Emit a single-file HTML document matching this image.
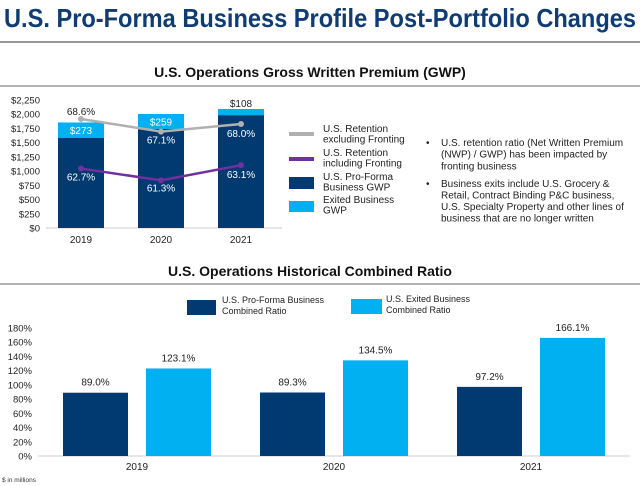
<!DOCTYPE html>
<html><head><meta charset="utf-8"><style>
html,body{margin:0;padding:0;background:#fff;width:640px;height:486px;overflow:hidden}
svg{display:block;font-family:"Liberation Sans",Arial,sans-serif}
</style></head><body>
<svg id="s" width="640" height="486" viewBox="0 0 640 486">
<text x="4" y="27" font-size="26" font-weight="bold" fill="#0f3c73" textLength="632" lengthAdjust="spacingAndGlyphs">U.S. Pro-Forma Business Profile Post-Portfolio Changes</text>
<line x1="0" y1="42" x2="640" y2="42" stroke="#777" stroke-width="1.5"/>
<text x="310" y="77" font-size="14" font-weight="bold" fill="#111" text-anchor="middle">U.S. Operations Gross Written Premium (GWP)</text>
<line x1="0" y1="86" x2="640" y2="86" stroke="#999" stroke-width="1.5"/>
<text x="310" y="276" font-size="14" font-weight="bold" fill="#111" text-anchor="middle">U.S. Operations Historical Combined Ratio</text>
<line x1="0" y1="284" x2="640" y2="284" stroke="#999" stroke-width="1.5"/>
<g id="gtop"></g>
<g id="gbot"></g>
<g font-size="10" fill="#222">
<line x1="289" y1="134" x2="314" y2="134" stroke="#b0b0b0" stroke-width="4"/>
<text x="323" y="132"><tspan x="323">U.S. Retention</tspan><tspan x="323" dy="10.5">excluding Fronting</tspan></text>
<line x1="289" y1="159" x2="314" y2="159" stroke="#7030a0" stroke-width="4"/>
<text x="323" y="156"><tspan x="323">U.S. Retention</tspan><tspan x="323" dy="10.5">including Fronting</tspan></text>
<rect x="289" y="177" width="25" height="12" fill="#003a70"/>
<text x="323" y="180"><tspan x="323">U.S. Pro-Forma</tspan><tspan x="323" dy="10.5">Business GWP</tspan></text>
<rect x="289" y="201" width="25" height="11" fill="#00b0f0"/>
<text x="323" y="203"><tspan x="323">Exited Business</tspan><tspan x="323" dy="10.5">GWP</tspan></text>
</g>
<g font-size="10" fill="#222">
<text x="426" y="146">•</text>
<text x="441" y="146"><tspan x="441">U.S. retention ratio (Net Written Premium</tspan><tspan x="441" dy="11.7">(NWP) / GWP) has been impacted by</tspan><tspan x="441" dy="11.7">fronting business</tspan></text>
<text x="426" y="187">•</text>
<text x="441" y="187"><tspan x="441">Business exits include U.S. Grocery &amp;</tspan><tspan x="441" dy="11.5">Retail, Contract Binding P&amp;C business,</tspan><tspan x="441" dy="11.5">U.S. Specialty Property and other lines of</tspan><tspan x="441" dy="11.5">business that are no longer written</tspan></text>
</g>
<g font-size="9" fill="#222">
<rect x="187" y="300" width="29" height="15" fill="#003a70"/>
<text x="222" y="303"><tspan x="222">U.S. Pro-Forma Business</tspan><tspan x="222" dy="11">Combined Ratio</tspan></text>
<rect x="351" y="299" width="31" height="15" fill="#00b0f0"/>
<text x="386" y="302"><tspan x="386">U.S. Exited Business</tspan><tspan x="386" dy="11">Combined Ratio</tspan></text>
</g>
<text x="2" y="482" font-size="6.5" fill="#333">$ in millions</text>
</svg>
<script>
const years=["2019","2020","2021"];
const proForma=[1582,1745,1984];
const exited=[273,259,108];
const exitedLabels=["$273","$259","$108"];
const retentionExcl=[68.6,67.1,68.0];
const retentionIncl=[62.7,61.3,63.1];
const gwpTicks=[0,250,500,750,1000,1250,1500,1750,2000,2250];
const ratioProForma=[89.0,89.3,97.2];
const ratioExited=[123.1,134.5,166.1];
const ratioTicks=[0,20,40,60,80,100,120,140,160,180];

const NS="http://www.w3.org/2000/svg";
function mk(p,tag,a,txt){const e=document.createElementNS(NS,tag);for(const k in a)e.setAttribute(k,a[k]);if(txt!=null)e.textContent=txt;p.appendChild(e);return e;}
const gTop=document.getElementById('gtop'),gBot=document.getElementById('gbot');
const yT=v=>228-v*(128/2250);
const xT=i=>81+i*80;
const yP=v=>119-(v-68.6)*8.4;
gwpTicks.forEach(t=>{const e=mk(gTop,'text',{x:40,y:yT(t)+3.5,'font-size':9.5,'text-anchor':'end',fill:'#222'},'$'+t.toLocaleString('en-US'));

});
const ax=mk(gTop,'line',{x1:46,y1:228,x2:282,y2:228,stroke:'#ccc','stroke-width':1});


years.forEach((y,i)=>{
 const b1=mk(gTop,'rect',{x:xT(i)-23,y:yT(proForma[i]),width:46,height:228-yT(proForma[i]),fill:'#003a70'});
 
 
 const b2=mk(gTop,'rect',{x:xT(i)-23,y:yT(proForma[i]+exited[i]),width:46,height:yT(proForma[i])-yT(proForma[i]+exited[i]),fill:'#00b0f0'});
 
 
 const top3=i===2;
 const lb=mk(gTop,'text',{x:xT(i),y:top3?yT(proForma[i]+exited[i])-2:(yT(proForma[i])+yT(proForma[i]+exited[i]))/2+4,'font-size':10,'text-anchor':'middle',fill:top3?'#222':'#fff'},exitedLabels[i]);
 
 
 const xl=mk(gTop,'text',{x:xT(i),y:243,'font-size':10,'text-anchor':'middle',fill:'#222'},y);
 
 
});
function series(vals,color,name,lblColor,offs){
 const pl=mk(gTop,'polyline',{points:vals.map((v,i)=>xT(i)+','+yP(v)).join(' '),fill:'none',stroke:color,'stroke-width':2.5});
 
 
 vals.forEach((v,i)=>{
  const c=mk(gTop,'circle',{cx:xT(i),cy:yP(v),r:3,fill:color});
  
  
  const t=mk(gTop,'text',{x:xT(i),y:yP(v)+offs[i],'font-size':10,'text-anchor':'middle',fill:lblColor[i]},v.toFixed(1)+'%');
  
  
 });
}
series(retentionExcl,'#b0b0b0','retention-excl',['#222','#fff','#fff'],[-4,12,13]);
series(retentionIncl,'#7030a0','retention-incl',['#fff','#fff','#fff'],[12,11,13]);
const yB=v=>456-v*(128/180);
const xB=i=>137+i*197;
ratioTicks.forEach(t=>{const e=mk(gBot,'text',{x:32,y:yB(t)+3.5,'font-size':9.5,'text-anchor':'end',fill:'#222'},t+'%');

});
const ax2=mk(gBot,'line',{x1:38,y1:456,x2:630,y2:456,stroke:'#ccc','stroke-width':1});


years.forEach((y,i)=>{
 [[ratioProForma[i],-74,'#003a70','proforma'],[ratioExited[i],9,'#00b0f0','exited']].forEach(([v,dx,c,n])=>{
  const r=mk(gBot,'rect',{x:xB(i)+dx,y:yB(v),width:65,height:456-yB(v),fill:c});
  
  
  const t=mk(gBot,'text',{x:xB(i)+dx+32.5,y:yB(v)-7,'font-size':10,'text-anchor':'middle',fill:'#222'},v.toFixed(1)+'%');
  
  
 });
 const xl=mk(gBot,'text',{x:xB(i),y:470,'font-size':10,'text-anchor':'middle',fill:'#222'},y);
 
 
});
</script>
</body></html>
